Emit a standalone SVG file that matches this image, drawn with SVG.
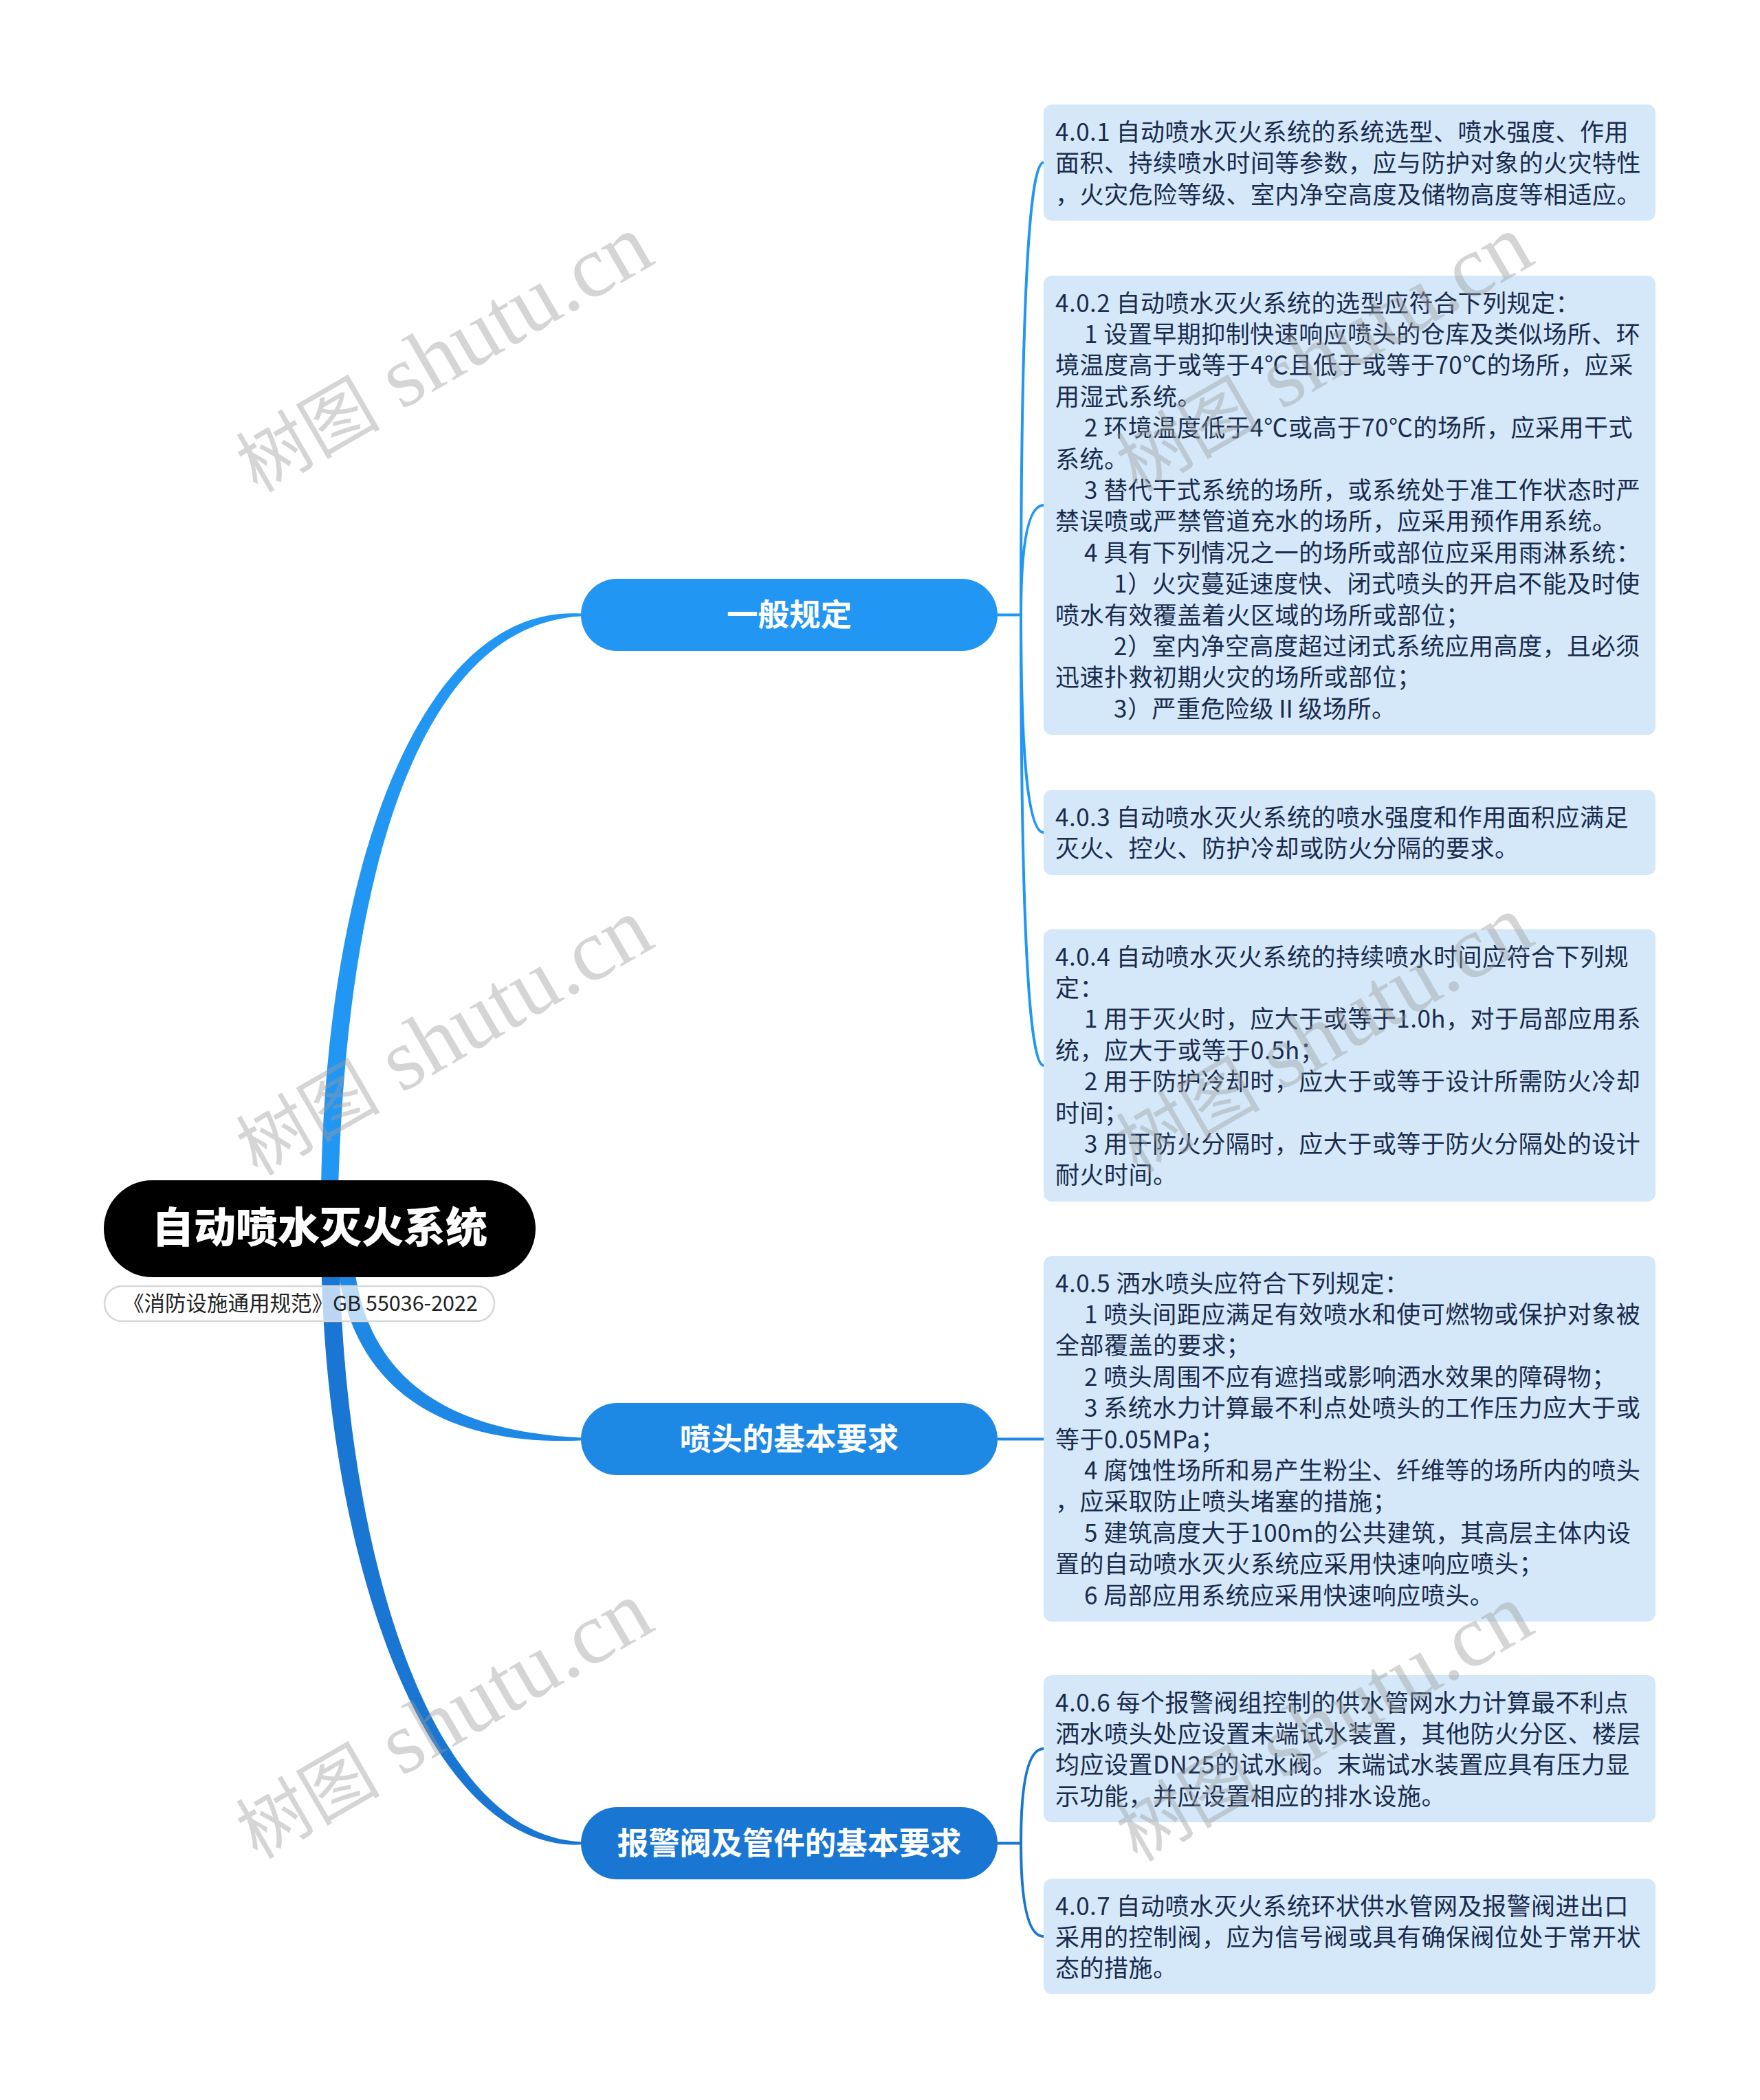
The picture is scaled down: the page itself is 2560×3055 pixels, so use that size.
<svg xmlns="http://www.w3.org/2000/svg" width="2560" height="3055" viewBox="0 0 2560 3055">
<defs>
<style>
.leaf rect{fill:#d4e8fa}
.leaf text{font-family:"Noto Sans CJK SC","Noto Sans",sans-serif;font-size:35px;letter-spacing:0.5px;fill:#1a2b4c}
.branch text{font-family:"Noto Sans CJK SC","Noto Sans",sans-serif;font-size:45.5px;font-weight:bold;fill:#ffffff;text-anchor:middle}
.lk{fill:none;stroke-width:4;stroke-linecap:round}
.wm{font-family:"Liberation Serif","Noto Sans CJK SC",serif;fill:#9a9a9a;fill-opacity:0.42;text-anchor:middle}
</style>
</defs>
<rect x="0" y="0" width="2560" height="3055" fill="#ffffff"/>

<g id="connectors">
<path d="M467 1787 C462 1300 600 878 845 892.5 L845 896.5 C600 910 496 1300 491 1787 Z" fill="#2196f3"/>
<path d="M512 1787 C512 1980 620 2081 845 2091.5 L845 2095.5 C620 2105 488 2000 488 1787 Z" fill="#1e88e5"/>
<path d="M493 1787 C495 2240 620 2669 845 2679.5 L845 2683.5 C620 2693 465 2260 467 1787 Z" fill="#1976d2"/>
<g stroke="#2196f3">
<path class="lk" d="M1451 894.5 H1485"/>
<path class="lk" d="M1485 894.5 Q1485 236.5 1518 236.5"/>
<path class="lk" d="M1485 894.5 Q1485 735 1518 735"/>
<path class="lk" d="M1485 894.5 Q1485 1211 1518 1211"/>
<path class="lk" d="M1485 894.5 Q1485 1550 1518 1550"/>
</g>
<path class="lk" stroke="#1e88e5" d="M1451 2093.5 H1518"/>
<g stroke="#1976d2">
<path class="lk" d="M1451 2681.5 H1485"/>
<path class="lk" d="M1485 2681.5 Q1485 2544 1518 2544"/>
<path class="lk" d="M1485 2681.5 Q1485 2817 1518 2817"/>
</g>
</g>

<g id="root">
<rect x="151" y="1717" width="628" height="141" rx="70.5" fill="#000000"/>
<text x="465" y="1808" font-family="'Noto Sans CJK SC',sans-serif" font-size="61" font-weight="900" fill="#ffffff" text-anchor="middle">自动喷水灭火系统</text>
</g>
<g id="root-note">
<rect x="152" y="1871" width="567" height="51" rx="25.5" fill="#ffffff" fill-opacity="0.7" stroke="#d6d6d6" stroke-width="2.5"/>
<text x="437" y="1907" font-family="'Noto Sans CJK SC',sans-serif" font-size="30.5" fill="#222222" text-anchor="middle">《消防设施通用规范》GB 55036-2022</text>
</g>

<g id="branch-1" class="branch">
<rect x="845" y="842" width="606" height="105" rx="52.5" fill="#2196f3"/>
<text x="1148" y="911">一般规定</text>
</g>
<g id="branch-2" class="branch">
<rect x="845" y="2041" width="606" height="105" rx="52.5" fill="#1e88e5"/>
<text x="1148" y="2110">喷头的基本要求</text>
</g>
<g id="branch-3" class="branch">
<rect x="845" y="2629" width="606" height="105" rx="52.5" fill="#1976d2"/>
<text x="1148" y="2698">报警阀及管件的基本要求</text>
</g>

<g id="leaf-401" class="leaf">
<rect x="1518" y="152" width="890" height="169" rx="12"/>
<text x="1535" y="205">4.0.1 自动喷水灭火系统的系统选型、喷水强度、作用</text>
<text x="1535" y="250.4">面积、持续喷水时间等参数，应与防护对象的火灾特性</text>
<text x="1535" y="295.8">，火灾危险等级、室内净空高度及储物高度等相适应。</text>
</g>

<g id="leaf-402" class="leaf">
<rect x="1518" y="401" width="890" height="668" rx="12"/>
<text x="1535" y="453.5">4.0.2 自动喷水灭火系统的选型应符合下列规定：</text>
<text x="1577" y="498.9">1 设置早期抑制快速响应喷头的仓库及类似场所、环</text>
<text x="1535" y="544.3">境温度高于或等于4℃且低于或等于70℃的场所，应采</text>
<text x="1535" y="589.7">用湿式系统。</text>
<text x="1577" y="635.1">2 环境温度低于4℃或高于70℃的场所，应采用干式</text>
<text x="1535" y="680.5">系统。</text>
<text x="1577" y="725.9">3 替代干式系统的场所，或系统处于准工作状态时严</text>
<text x="1535" y="771.3">禁误喷或严禁管道充水的场所，应采用预作用系统。</text>
<text x="1577" y="816.7">4 具有下列情况之一的场所或部位应采用雨淋系统：</text>
<text x="1620" y="862.1">1）火灾蔓延速度快、闭式喷头的开启不能及时使</text>
<text x="1535" y="907.5">喷水有效覆盖着火区域的场所或部位；</text>
<text x="1620" y="952.9">2）室内净空高度超过闭式系统应用高度，且必须</text>
<text x="1535" y="998.3">迅速扑救初期火灾的场所或部位；</text>
<text x="1620" y="1043.7">3）严重危险级Ⅱ级场所。</text>
</g>

<g id="leaf-403" class="leaf">
<rect x="1518" y="1149" width="890" height="124" rx="12"/>
<text x="1535" y="1201.5">4.0.3 自动喷水灭火系统的喷水强度和作用面积应满足</text>
<text x="1535" y="1246.9">灭火、控火、防护冷却或防火分隔的要求。</text>
</g>

<g id="leaf-404" class="leaf">
<rect x="1518" y="1352" width="890" height="396" rx="12"/>
<text x="1535" y="1404.5">4.0.4 自动喷水灭火系统的持续喷水时间应符合下列规</text>
<text x="1535" y="1449.9">定：</text>
<text x="1577" y="1495.3">1 用于灭火时，应大于或等于1.0h，对于局部应用系</text>
<text x="1535" y="1540.7">统，应大于或等于0.5h；</text>
<text x="1577" y="1586.1">2 用于防护冷却时，应大于或等于设计所需防火冷却</text>
<text x="1535" y="1631.5">时间；</text>
<text x="1577" y="1676.9">3 用于防火分隔时，应大于或等于防火分隔处的设计</text>
<text x="1535" y="1722.3">耐火时间。</text>
</g>

<g id="leaf-405" class="leaf">
<rect x="1518" y="1827" width="890" height="532" rx="12"/>
<text x="1535" y="1879.5">4.0.5 洒水喷头应符合下列规定：</text>
<text x="1577" y="1924.9">1 喷头间距应满足有效喷水和使可燃物或保护对象被</text>
<text x="1535" y="1970.3">全部覆盖的要求；</text>
<text x="1577" y="2015.7">2 喷头周围不应有遮挡或影响洒水效果的障碍物；</text>
<text x="1577" y="2061.1">3 系统水力计算最不利点处喷头的工作压力应大于或</text>
<text x="1535" y="2106.5">等于0.05MPa；</text>
<text x="1577" y="2151.9">4 腐蚀性场所和易产生粉尘、纤维等的场所内的喷头</text>
<text x="1535" y="2197.3">，应采取防止喷头堵塞的措施；</text>
<text x="1577" y="2242.7">5 建筑高度大于100m的公共建筑，其高层主体内设</text>
<text x="1535" y="2288.1">置的自动喷水灭火系统应采用快速响应喷头；</text>
<text x="1577" y="2333.5">6 局部应用系统应采用快速响应喷头。</text>
</g>

<g id="leaf-406" class="leaf">
<rect x="1518" y="2437" width="890" height="214" rx="12"/>
<text x="1535" y="2489.5">4.0.6 每个报警阀组控制的供水管网水力计算最不利点</text>
<text x="1535" y="2534.9">洒水喷头处应设置末端试水装置，其他防火分区、楼层</text>
<text x="1535" y="2580.3">均应设置DN25的试水阀。末端试水装置应具有压力显</text>
<text x="1535" y="2625.7">示功能，并应设置相应的排水设施。</text>
</g>

<g id="leaf-407" class="leaf">
<rect x="1518" y="2733" width="890" height="168" rx="12"/>
<text x="1535" y="2785.5">4.0.7 自动喷水灭火系统环状供水管网及报警阀进出口</text>
<text x="1535" y="2830.9">采用的控制阀，应为信号阀或具有确保阀位处于常开状</text>
<text x="1535" y="2876.3">态的措施。</text>
</g>

<g id="watermarks">
<text class="wm" transform="translate(645 515) rotate(-30)" y="40"><tspan font-size="105">树图</tspan><tspan font-size="128"> shutu.cn</tspan></text>
<text class="wm" transform="translate(645 1509) rotate(-30)" y="40"><tspan font-size="105">树图</tspan><tspan font-size="128"> shutu.cn</tspan></text>
<text class="wm" transform="translate(645 2503) rotate(-30)" y="40"><tspan font-size="105">树图</tspan><tspan font-size="128"> shutu.cn</tspan></text>
<text class="wm" transform="translate(1925 515) rotate(-30)" y="40"><tspan font-size="105">树图</tspan><tspan font-size="128"> shutu.cn</tspan></text>
<text class="wm" transform="translate(1925 1505) rotate(-30)" y="40"><tspan font-size="105">树图</tspan><tspan font-size="128"> shutu.cn</tspan></text>
<text class="wm" transform="translate(1925 2507) rotate(-30)" y="40"><tspan font-size="105">树图</tspan><tspan font-size="128"> shutu.cn</tspan></text>
</g>
</svg>
